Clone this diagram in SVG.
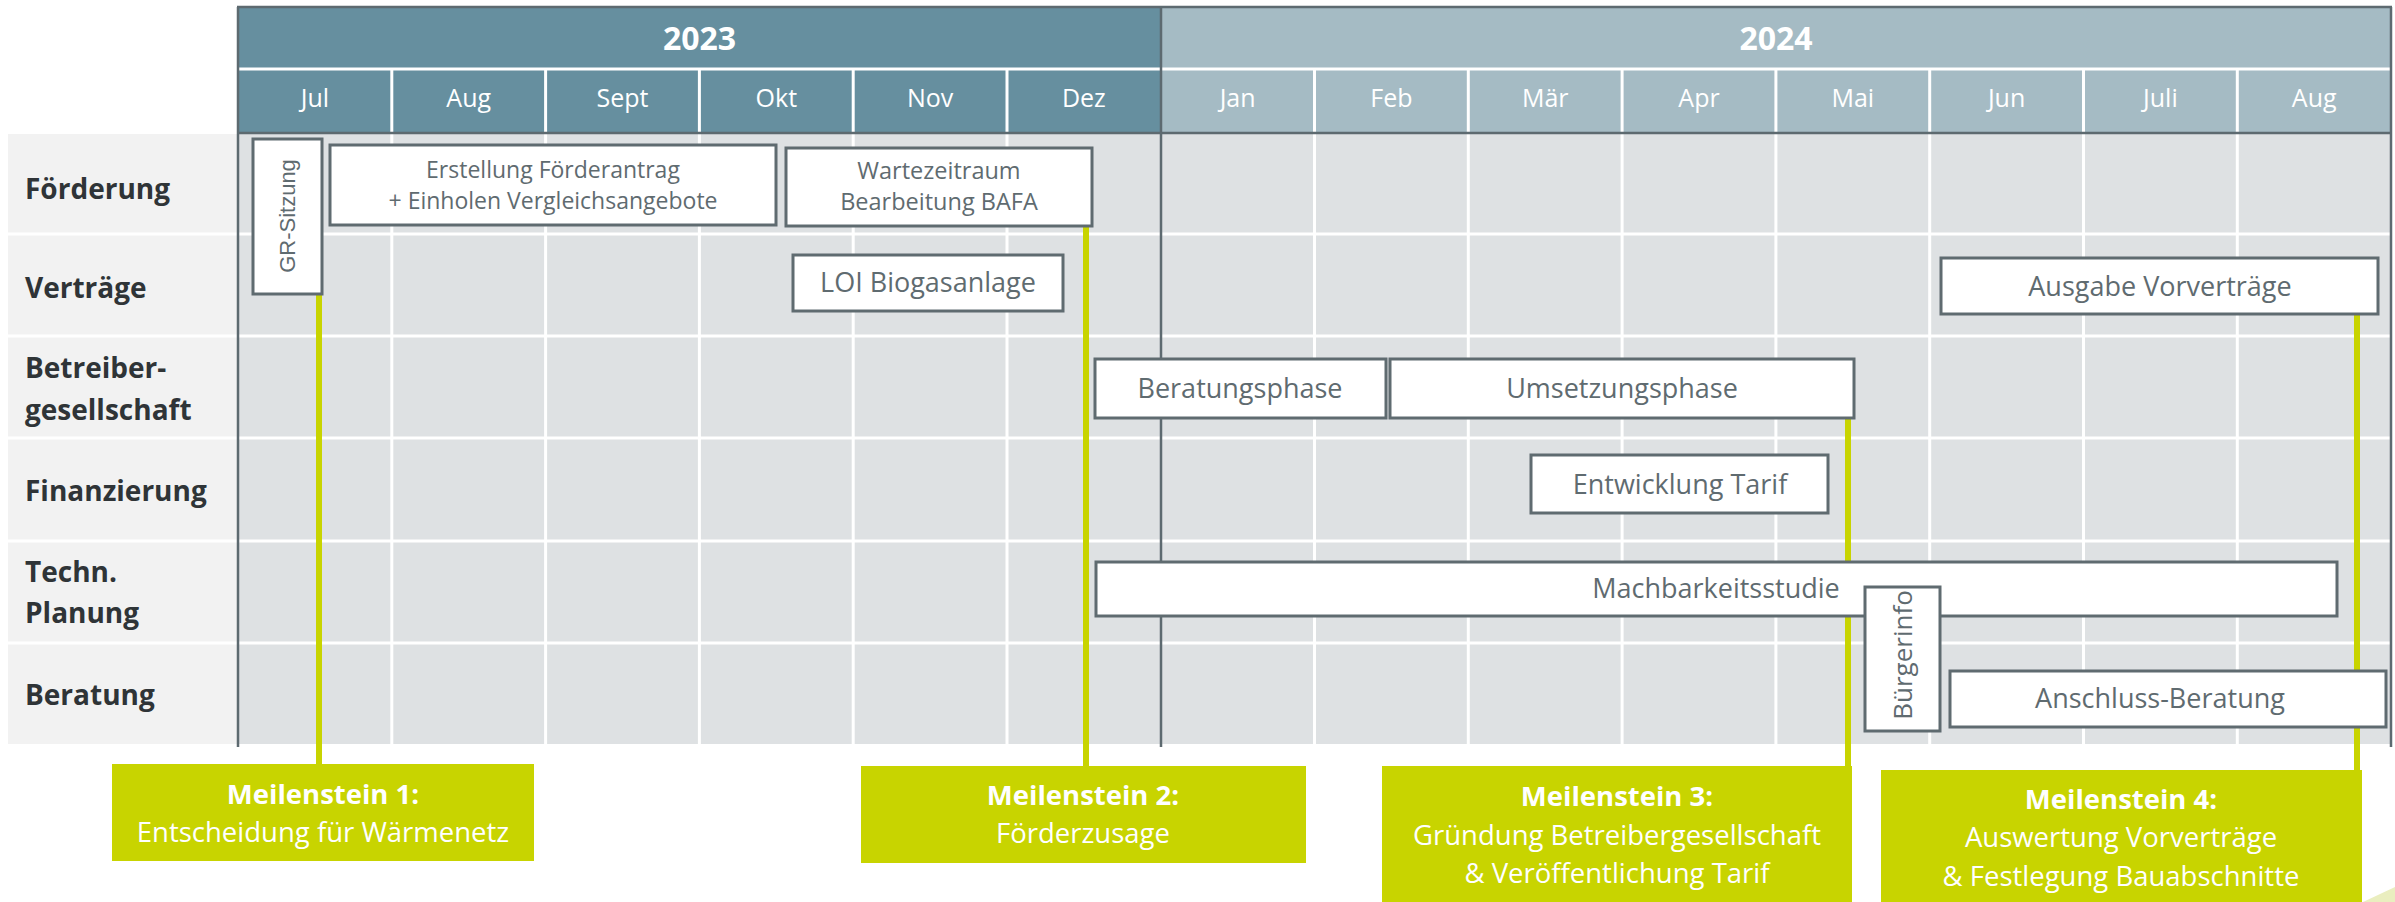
<svg xmlns="http://www.w3.org/2000/svg" width="2395" height="902" viewBox="0 0 2395 902">
<style>
.lbl{font-family:"Open Sans","Liberation Sans",sans-serif;font-weight:bold;font-size:28px;fill:#2f3437}
.yr{font-family:"Open Sans","Liberation Sans",sans-serif;font-weight:bold;font-size:32px;fill:#fff;text-anchor:middle}
.mo{font-family:"Open Sans","Liberation Sans",sans-serif;font-size:25px;fill:#fff;text-anchor:middle}
.box{fill:#fff;stroke:#5f6b70;stroke-width:3}
.t{font-family:"Open Sans","Liberation Sans",sans-serif;font-size:27px;fill:#5f6b70;text-anchor:middle}
.t2{font-size:23px}
.gr{font-family:"Liberation Sans",Arial,sans-serif;font-size:22px;fill:#5f6b70;text-anchor:middle}
.ms{fill:#c8d400}
.mt{font-family:"Open Sans","Liberation Sans",sans-serif;font-size:27.5px;fill:#fff;text-anchor:middle}
.mb{font-weight:bold}
.ml{stroke:#c8d400;stroke-width:6;fill:none}
.wl{stroke:#fff;stroke-width:3}
.dl{stroke:#5d6a70;stroke-width:2.5}
</style>
<rect width="2395" height="902" fill="#fff"/>
<g id="grid">
  <rect x="8" y="134" width="230" height="610" fill="#f2f2f2"/>
  <rect x="238" y="134" width="2153" height="610" fill="#dee1e3"/>
  <g class="wl">
    <line x1="8" y1="234" x2="2391" y2="234"/>
    <line x1="8" y1="336" x2="2391" y2="336"/>
    <line x1="8" y1="438" x2="2391" y2="438"/>
    <line x1="8" y1="541" x2="2391" y2="541"/>
    <line x1="8" y1="643" x2="2391" y2="643"/>
    <line x1="391.8" y1="134" x2="391.8" y2="744"/>
    <line x1="545.6" y1="134" x2="545.6" y2="744"/>
    <line x1="699.4" y1="134" x2="699.4" y2="744"/>
    <line x1="853.2" y1="134" x2="853.2" y2="744"/>
    <line x1="1007" y1="134" x2="1007" y2="744"/>
    <line x1="1314.5" y1="134" x2="1314.5" y2="744"/>
    <line x1="1468.3" y1="134" x2="1468.3" y2="744"/>
    <line x1="1622.1" y1="134" x2="1622.1" y2="744"/>
    <line x1="1775.9" y1="134" x2="1775.9" y2="744"/>
    <line x1="1929.7" y1="134" x2="1929.7" y2="744"/>
    <line x1="2083.5" y1="134" x2="2083.5" y2="744"/>
    <line x1="2237.3" y1="134" x2="2237.3" y2="744"/>
  </g>
</g>
<g id="header">
  <rect x="238" y="8" width="923" height="125" fill="#668f9f"/>
  <rect x="1161" y="8" width="1230" height="125" fill="#a5bbc4"/>
  <g class="wl">
    <line x1="238" y1="69" x2="2391" y2="69"/>
    <line x1="391.8" y1="70" x2="391.8" y2="133"/>
    <line x1="545.6" y1="70" x2="545.6" y2="133"/>
    <line x1="699.4" y1="70" x2="699.4" y2="133"/>
    <line x1="853.2" y1="70" x2="853.2" y2="133"/>
    <line x1="1007" y1="70" x2="1007" y2="133"/>
    <line x1="1314.5" y1="70" x2="1314.5" y2="133"/>
    <line x1="1468.3" y1="70" x2="1468.3" y2="133"/>
    <line x1="1622.1" y1="70" x2="1622.1" y2="133"/>
    <line x1="1775.9" y1="70" x2="1775.9" y2="133"/>
    <line x1="1929.7" y1="70" x2="1929.7" y2="133"/>
    <line x1="2083.5" y1="70" x2="2083.5" y2="133"/>
    <line x1="2237.3" y1="70" x2="2237.3" y2="133"/>
  </g>
  <g class="dl">
    <line x1="237" y1="7" x2="2392" y2="7"/>
    <line x1="237" y1="133" x2="2392" y2="133"/>
    <line x1="238" y1="7" x2="238" y2="747"/>
    <line x1="1161" y1="7" x2="1161" y2="747"/>
    <line x1="2391" y1="7" x2="2391" y2="747"/>
  </g>
  <text class="yr" x="699.5" y="50">2023</text>
  <text class="yr" x="1776" y="50">2024</text>
  <text class="mo" x="314.9" y="107">Jul</text>
  <text class="mo" x="468.7" y="107">Aug</text>
  <text class="mo" x="622.5" y="107">Sept</text>
  <text class="mo" x="776.3" y="107">Okt</text>
  <text class="mo" x="930.1" y="107">Nov</text>
  <text class="mo" x="1083.9" y="107">Dez</text>
  <text class="mo" x="1237.6" y="107">Jan</text>
  <text class="mo" x="1391.4" y="107">Feb</text>
  <text class="mo" x="1545.2" y="107">Mär</text>
  <text class="mo" x="1699" y="107">Apr</text>
  <text class="mo" x="1852.8" y="107">Mai</text>
  <text class="mo" x="2006.6" y="107">Jun</text>
  <text class="mo" x="2160.4" y="107">Juli</text>
  <text class="mo" x="2314.2" y="107">Aug</text>
</g>
<g id="row-labels">
  <text class="lbl" x="25" y="199">Förderung</text>
  <text class="lbl" x="25" y="298">Verträge</text>
  <text class="lbl" x="25" y="378">Betreiber-</text>
  <text class="lbl" x="25" y="420">gesellschaft</text>
  <text class="lbl" x="25" y="501">Finanzierung</text>
  <text class="lbl" x="25" y="582">Techn.</text>
  <text class="lbl" x="25" y="623">Planung</text>
  <text class="lbl" x="25" y="705">Beratung</text>
</g>
<g id="connectors" class="ml">
  <line x1="319" y1="294" x2="319" y2="765"/>
  <line x1="1086" y1="226" x2="1086" y2="767"/>
  <line x1="1848" y1="418" x2="1848" y2="767"/>
  <line x1="2357" y1="314" x2="2357" y2="771"/>
</g>
<g id="gr-sitzung">
  <rect class="box" x="253" y="139" width="69" height="155"/>
  <text class="gr" transform="translate(295,216) rotate(-90)">GR-Sitzung</text>
</g>
<g id="erstellung">
  <rect class="box" x="330" y="145" width="446" height="80"/>
  <text class="t t2" x="553" y="178">Erstellung Förderantrag</text>
  <text class="t t2" x="553" y="209">+ Einholen Vergleichsangebote</text>
</g>
<g id="wartezeitraum">
  <rect class="box" x="786" y="148" width="306" height="78"/>
  <text class="t" style="font-size:23.5px" x="939" y="179">Wartezeitraum</text>
  <text class="t" style="font-size:23.5px" x="939" y="210">Bearbeitung BAFA</text>
</g>
<g id="loi">
  <rect class="box" x="793" y="255" width="270" height="56"/>
  <text class="t" x="928" y="292">LOI Biogasanlage</text>
</g>
<g id="vorvertraege">
  <rect class="box" x="1941" y="258" width="437" height="56"/>
  <text class="t" x="2160" y="296">Ausgabe Vorverträge</text>
</g>
<g id="beratungsphase">
  <rect class="box" x="1095" y="359" width="291" height="59"/>
  <text class="t" x="1240" y="398">Beratungsphase</text>
</g>
<g id="umsetzungsphase">
  <rect class="box" x="1390" y="359" width="464" height="59"/>
  <text class="t" x="1622" y="398">Umsetzungsphase</text>
</g>
<g id="tarif">
  <rect class="box" x="1531" y="455" width="297" height="58"/>
  <text class="t" x="1680" y="494">Entwicklung Tarif</text>
</g>
<g id="machbarkeitsstudie">
  <rect class="box" x="1096" y="562" width="1241" height="54"/>
  <text class="t" x="1716" y="598">Machbarkeitsstudie</text>
</g>
<g id="buergerinfo">
  <rect class="box" x="1865" y="587" width="75" height="144"/>
  <text class="t" style="font-size:26px" transform="translate(1912,655) rotate(-90)">Bürgerinfo</text>
</g>
<g id="anschluss">
  <rect class="box" x="1950" y="671" width="436" height="56"/>
  <text class="t" x="2160" y="708">Anschluss-Beratung</text>
</g>
<g id="meilenstein-1">
  <rect class="ms" x="112" y="764" width="422" height="97"/>
  <text class="mt mb" x="323" y="804">Meilenstein 1:</text>
  <text class="mt" x="323" y="842">Entscheidung für Wärmenetz</text>
</g>
<g id="meilenstein-2">
  <rect class="ms" x="861" y="766" width="445" height="97"/>
  <text class="mt mb" x="1083" y="805">Meilenstein 2:</text>
  <text class="mt" x="1083" y="843">Förderzusage</text>
</g>
<g id="meilenstein-3">
  <rect class="ms" x="1382" y="766" width="470" height="136"/>
  <text class="mt mb" x="1617" y="806">Meilenstein 3:</text>
  <text class="mt" x="1617" y="845">Gründung Betreibergesellschaft</text>
  <text class="mt" x="1617" y="883">&amp; Veröffentlichung Tarif</text>
</g>
<g id="meilenstein-4">
  <rect class="ms" x="1881" y="770" width="481" height="132"/>
  <text class="mt mb" x="2121" y="809">Meilenstein 4:</text>
  <text class="mt" x="2121" y="847">Auswertung Vorverträge</text>
  <text class="mt" x="2121" y="886">&amp; Festlegung Bauabschnitte</text>
</g>
<polygon points="2363,902 2395,887 2395,902" fill="#eaeebf"/>
</svg>
